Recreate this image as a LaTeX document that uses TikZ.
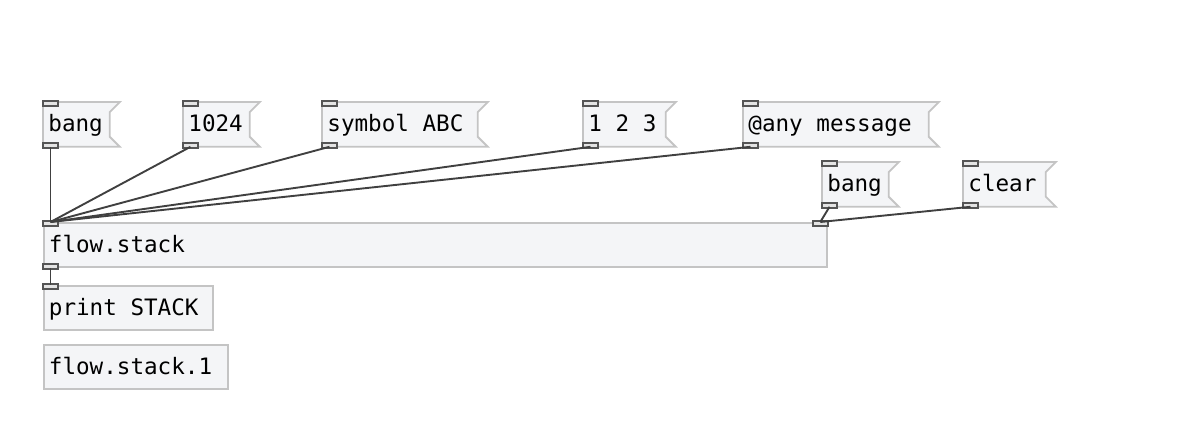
\documentclass[tikz,border=0pt]{standalone}
\usepackage{fontspec}
\newfontfamily\pdmono{DejaVu Sans Mono}
\usetikzlibrary{backgrounds}

\definecolor{boxfill}{HTML}{F4F5F7}
\definecolor{boxline}{HTML}{C4C4C4}
\definecolor{portline}{HTML}{555555}
\definecolor{portfill}{HTML}{E4E4E4}
\definecolor{cordline}{HTML}{404040}

\newcommand{\pdfont}{\pdmono\fontsize{11.3}{13}\selectfont}
\newcommand{\pdsp}{\hspace*{6.8pt}}

\tikzset{
  pdtext/.style={anchor=north west,inner xsep=0pt,inner ysep=0pt,minimum height=22pt,
    text height=8.5pt,text depth=1pt,align=left,font=\pdfont,
    execute at begin node=\hspace*{2.5pt}},
  objbox/.style={pdtext,draw=boxline,fill=boxfill,line width=0.9pt},
  flagbox/.style={draw=boxline,fill=boxfill,line width=0.9pt},
  port/.style={draw=portline,fill=portfill,line width=0.8pt},
  cord/.style={draw=cordline,line width=0.95pt},
}

% message box: name, x, y, width (pt), text
\newcommand{\pdmsg}[5]{%
  \node[pdtext,text width=#4] (#1) at (#2,#3) {#5};
  \begin{scope}[on background layer]
    \path[flagbox] (#1.north west) -- ([xshift=5pt]#1.north east)
      -- ([yshift=-5pt]#1.north east) -- ([yshift=5pt]#1.south east)
      -- ([xshift=5pt]#1.south east) -- (#1.south west) -- cycle;
  \end{scope}
  \draw[port] ([yshift=0.5pt]#1.north west) rectangle +(15,5);
  \draw[port] ([yshift=-0.5pt]#1.south west) rectangle +(15,-5);
  \coordinate (#1-in) at ([xshift=3.75pt]#1.north west);
  \coordinate (#1-out) at ([xshift=3.75pt]#1.south west);
}

\begin{document}
\begin{tikzpicture}[x=0.5pt,y=-0.5pt]
\useasboundingbox (0,0) rectangle (1186,448);
\pdmsg{bangA}{43}{102}{33pt}{bang}
\pdmsg{num}{183}{102}{33pt}{1024}
\pdmsg{sym}{322}{102}{77.5pt}{symbol\pdsp ABC}
\pdmsg{lst}{583}{102}{41pt}{1\pdsp 2\pdsp 3}
\pdmsg{any}{743}{102}{92.5pt}{@any\pdsp message}
\pdmsg{bangB}{822}{162}{33pt}{bang}
\pdmsg{clr}{963}{162}{41pt}{clear}

\node[objbox,text width=391.5pt] (stack) at (43,222) {flow.stack};
\draw[port] ([yshift=0.5pt]stack.north west) rectangle +(15,5);
\draw[port] ([yshift=0.5pt]stack.north east) rectangle +(-15,5);
\draw[port] ([yshift=-0.5pt]stack.south west) rectangle +(15,-5);
\coordinate (stack-in) at ([xshift=3.75pt]stack.north west);
\coordinate (stack-in2) at ([xshift=-3.75pt]stack.north east);
\coordinate (stack-out) at ([xshift=3.75pt]stack.south west);

\node[objbox,text width=84.5pt] (prt) at (43,285) {print\pdsp STACK};
\draw[port] ([yshift=0.5pt]prt.north west) rectangle +(15,5);
\coordinate (prt-in) at ([xshift=3.75pt]prt.north west);

\node[objbox,text width=92pt] (stack1) at (43,344) {flow.stack.1};

\foreach \src in {bangA,num,sym,lst,any}
  \draw[cord] (\src-out) -- (stack-in);
\draw[cord] (bangB-out) -- (stack-in2);
\draw[cord] (clr-out) -- (stack-in2);
\draw[cord] (stack-out) -- (prt-in);
\end{tikzpicture}
\end{document}
